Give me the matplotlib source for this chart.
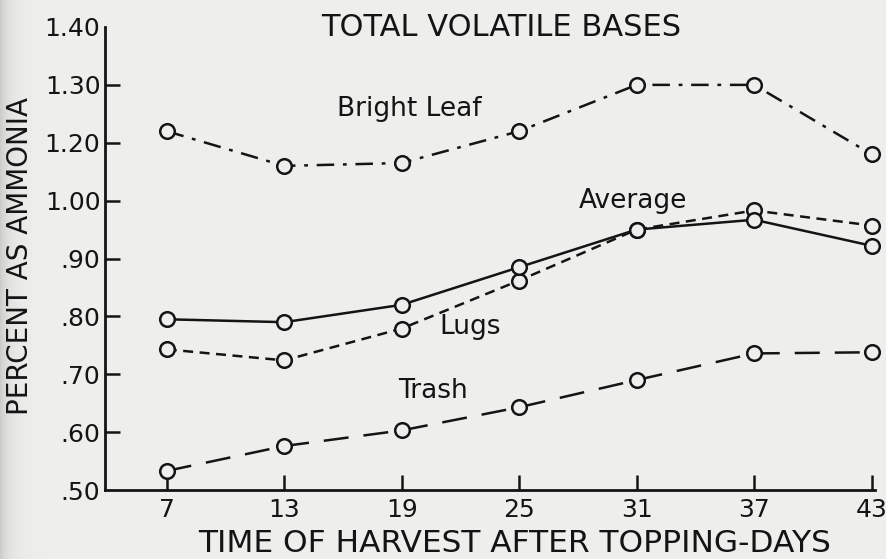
import matplotlib
matplotlib.use('Agg')
import matplotlib.pyplot as plt
import numpy as np

# data
days = [7, 13, 19, 25, 31, 37, 43]
bright_leaf = [1.22, 1.12, 1.13, 1.22, 1.30, 1.30, 1.16]
average = [0.795, 0.79, 0.82, 0.885, 0.95, 0.967, 0.922]
lugs = [0.743, 0.724, 0.779, 0.862, 0.95, 0.983, 0.957]
trash = [0.533, 0.576, 0.603, 0.643, 0.69, 0.736, 0.738]

ytick_vals = [0.50, 0.60, 0.70, 0.80, 0.90, 1.00, 1.20, 1.30, 1.40]
ytick_labels = ['.50', '.60', '.70', '.80', '.90', '1.00', '1.20', '1.30', '1.40']

bg = '#eeeeec'
ink = '#141414'


# the printed axis skips 1.10: the step 1.00 -> 1.20 takes one grid space
def fwd(v):
    v = np.asarray(v, dtype=float)
    return np.where(v <= 1.0, v, np.where(v <= 1.2, 1.0 + (v - 1.0) / 2, v - 0.1))


def inv(p):
    p = np.asarray(p, dtype=float)
    return np.where(p <= 1.0, p, np.where(p <= 1.1, 1.0 + (p - 1.0) * 2, p + 0.1))


plt.rcParams['font.family'] = ['DejaVu Sans']

fig = plt.figure(figsize=(8.87, 5.59), dpi=100, facecolor=bg)

# faint scan shadow along the left edge, fading into the paper colour
shade = fig.add_axes([0, 0, 0.05, 1], zorder=-5)
px = np.arange(44)
grad = np.zeros((1, 44, 3))
base = np.array([0xee, 0xee, 0xec]) / 255
for i in range(44):
    grad[0, i] = base - 0.13 * np.exp(-px[i] / 9.0)
shade.imshow(grad, aspect='auto', extent=[0, 1, 0, 1])
shade.axis('off')

ax = fig.add_axes([0.118, 0.1234, 0.868, 0.8283], facecolor='none')
ax.set_yscale('function', functions=(fwd, inv))

lw = 1.8
mk = dict(marker='o', markersize=10.5, markerfacecolor=bg,
          markeredgecolor=ink, markeredgewidth=1.8, color=ink, linewidth=lw,
          clip_on=False)

ax.plot(days, trash, linestyle=(0, (10, 6)), **mk)
ax.plot(days, lugs, linestyle=(0, (4, 2.6)), **mk)
ax.plot(days, average, linestyle='-', **mk)
ax.plot(days, bright_leaf, linestyle=(0, (7, 3.5, 1.5, 3.5)), **mk)

ax.set_xlim(3.83, 43.15)
ax.set_ylim(0.50, 1.40)

ax.set_xticks(days)
ax.set_xticklabels([str(d) for d in days])
ax.set_yticks(ytick_vals)
ax.set_yticklabels(ytick_labels)

for s in ['top', 'right']:
    ax.spines[s].set_visible(False)
for s in ['left', 'bottom']:
    ax.spines[s].set_linewidth(2)
    ax.spines[s].set_color(ink)

ax.tick_params(axis='both', direction='in', length=11, width=1.8,
               colors=ink, labelsize=18)
ax.tick_params(axis='x', pad=6)
ax.tick_params(axis='y', pad=3)
yt = ax.yaxis.get_major_ticks()
yt[0].tick1line.set_visible(False)
yt[-1].tick1line.set_visible(False)

# curve labels
ax.text(19.4, 1.259, 'Bright Leaf', fontsize=19, ha='center', va='center', color=ink)
ax.text(30.8, 1.00, 'Average', fontsize=19, ha='center', va='center', color=ink)
ax.text(22.5, 0.781, 'Lugs', fontsize=19, ha='center', va='center', color=ink)
ax.text(20.6, 0.671, 'Trash', fontsize=19, ha='center', va='center', color=ink)

fig.text(0.565, 0.95, 'TOTAL VOLATILE BASES', fontsize=22, ha='center', va='center', color=ink)
fig.text(0.023, 1 - 256 / 559, 'PERCENT AS AMMONIA', fontsize=20, rotation=90,
         ha='center', va='center', color=ink)
fig.text(515 / 887, 1 - 543 / 559, 'TIME OF HARVEST AFTER TOPPING-DAYS', fontsize=22.5,
         ha='center', va='center', color=ink)

fig.savefig('out.png', dpi=100, facecolor=bg)
